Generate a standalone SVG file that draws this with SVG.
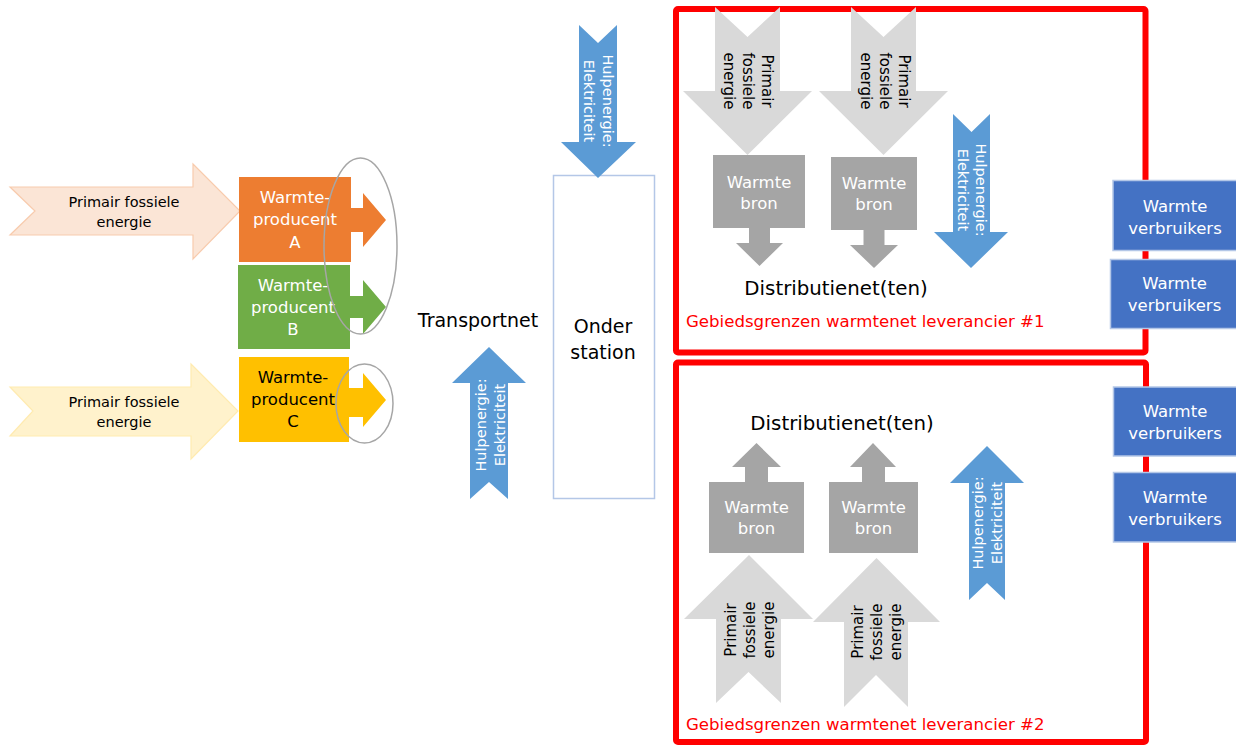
<svg xmlns="http://www.w3.org/2000/svg" width="1236" height="745" viewBox="0 0 1236 745">
<defs>
<style>
text { font-family: "DejaVu Sans", "Liberation Sans", sans-serif; }
.w { fill: #FFFFFF; }
.k { fill: #000000; }
.t14 { font-size: 14.5px; }
.t145 { font-size: 14.5px; }
.t15 { font-size: 15px; }
.t17 { font-size: 16.5px; }
.t19 { font-size: 19px; }
.t20 { font-size: 19.8px; }
.red { fill: #FF0000; font-size: 16.6px; }
.blue { fill: #5B9BD5; }
.fossil { fill: #D9D9D9; }
.bron { fill: #A5A5A5; }
.verb { fill: #4472C4; stroke: #B4C7E7; stroke-width: 1.5; }
.border { fill: none; stroke: #FF0000; stroke-width: 6; }
.ring { fill: none; stroke: #A6A6A6; stroke-width: 1.5; }
</style>
</defs>
<rect width="1236" height="745" fill="#FFFFFF"/>

<!-- Region borders -->
<g id="region1">
<rect class="border" x="676" y="9" width="469.5" height="343.5" rx="2"/>
<text class="red" x="686" y="327">Gebiedsgrenzen warmtenet leverancier #1</text>
</g>
<g id="region2">
<rect class="border" x="676" y="362.5" width="470" height="379.5" rx="2"/>
<text class="red" x="686" y="730">Gebiedsgrenzen warmtenet leverancier #2</text>
</g>

<!-- Left primary energy arrows -->
<g id="primair-1">
<polygon points="10,187 193,187 193,164 240,211 193,259 193,235 10,235 35,211" fill="#FBE5D6" stroke="#F8CBAD" stroke-width="1.2"/>
<text class="k t145" text-anchor="middle"><tspan x="124" y="207">Primair fossiele</tspan><tspan x="124" y="227">energie</tspan></text>
</g>
<g id="primair-2">
<polygon points="10,387 191,387 191,364 238,411 191,459 191,436 10,436 33,411" fill="#FFF2CC" stroke="#FFEBB0" stroke-width="1.2"/>
<text class="k t145" text-anchor="middle"><tspan x="124" y="407">Primair fossiele</tspan><tspan x="124" y="427">energie</tspan></text>
</g>

<!-- Producers -->
<g id="producent-a">
<rect x="239" y="177" width="112" height="85" fill="#ED7D31"/>
<text class="w t17" text-anchor="middle"><tspan x="295" y="203">Warmte-</tspan><tspan x="295" y="225">producent</tspan><tspan x="295" y="248">A</tspan></text>
</g>
<g id="producent-b">
<rect x="238" y="265" width="112" height="84" fill="#70AD47"/>
<text class="w t17" text-anchor="middle"><tspan x="293" y="291">Warmte-</tspan><tspan x="293" y="313">producent</tspan><tspan x="293" y="335">B</tspan></text>
</g>
<g id="producent-c">
<rect x="239" y="357" width="110" height="85" fill="#FFC000"/>
<text class="k t17" text-anchor="middle"><tspan x="293" y="383">Warmte-</tspan><tspan x="293" y="405">producent</tspan><tspan x="293" y="427">C</tspan></text>
</g>

<!-- Transportnet -->
<g id="transportnet">
<text class="k t19" x="478" y="327" text-anchor="middle">Transportnet</text>
</g>
<g id="hulp-transport">
<polygon class="blue" points="489,347 526,383 508,383 508,499 489,482 470,499 470,383 452,383"/>
<text class="w t14" text-anchor="middle" transform="translate(490.5,425) rotate(-90)"><tspan x="0" y="-4.5">Hulpenergie:</tspan><tspan x="0" y="14.5">Elektriciteit</tspan></text>
</g>

<!-- Onderstation -->
<g id="onderstation">
<rect x="553.5" y="175.5" width="101" height="323" fill="#FFFFFF" stroke="#B4C7E7" stroke-width="1.5"/>
<text class="k t19" text-anchor="middle"><tspan x="603" y="333">Onder</tspan><tspan x="603" y="359">station</tspan></text>
</g>
<g id="hulp-onderstation">
<polygon class="blue" points="579,25 598,43 617,25 617,142 636,142 598,178 561,142 579,142"/>
<text class="w t14" text-anchor="middle" transform="translate(598.5,101) rotate(90)"><tspan x="0" y="-4.5">Hulpenergie:</tspan><tspan x="0" y="14.5">Elektriciteit</tspan></text>
</g>

<!-- Region 1 contents -->
<g id="fossiel-1a">
<polygon class="fossil" points="715,7 747.5,37 780,7 780,91 812,91 747.5,155 683,91 715,91"/>
<text class="k t15" text-anchor="middle" transform="translate(747.5,81) rotate(90)"><tspan x="0" y="-14">Primair</tspan><tspan x="0" y="5">fossiele</tspan><tspan x="0" y="24">energie</tspan></text>
</g>
<g id="fossiel-1b">
<polygon class="fossil" points="851,7 883.5,37 916,7 916,91 948,91 883.5,155 819,91 851,91"/>
<text class="k t15" text-anchor="middle" transform="translate(884.5,81) rotate(90)"><tspan x="0" y="-14">Primair</tspan><tspan x="0" y="5">fossiele</tspan><tspan x="0" y="24">energie</tspan></text>
</g>
<g id="bron-1a">
<rect class="bron" x="713" y="155" width="92" height="73"/>
<text class="w t17" text-anchor="middle"><tspan x="759" y="188">Warmte</tspan><tspan x="759" y="209">bron</tspan></text>
</g>
<g id="bron-1b">
<rect class="bron" x="831" y="157" width="86" height="73"/>
<text class="w t17" text-anchor="middle"><tspan x="874" y="189">Warmte</tspan><tspan x="874" y="210">bron</tspan></text>
</g>
<g id="hulp-1">
<polygon class="blue" points="953,114 971.5,132 990,114 990,232 1008,232 971,268 934,232 953,232"/>
<text class="w t14" text-anchor="middle" transform="translate(971,190) rotate(90)"><tspan x="0" y="-4.5">Hulpenergie:</tspan><tspan x="0" y="13.5">Elektriciteit</tspan></text>
</g>
<g id="distributie-1">
<text class="k t20" x="836" y="295" text-anchor="middle">Distributienet(ten)</text>
</g>

<!-- Region 2 contents -->
<g id="distributie-2">
<text class="k t20" x="842" y="430" text-anchor="middle">Distributienet(ten)</text>
</g>
<g id="bron-2a">
<rect class="bron" x="709" y="482" width="95" height="71"/>
<text class="w t17" text-anchor="middle"><tspan x="756.5" y="513">Warmte</tspan><tspan x="756.5" y="534">bron</tspan></text>
</g>
<g id="bron-2b">
<rect class="bron" x="829" y="482" width="89" height="71"/>
<text class="w t17" text-anchor="middle"><tspan x="873.5" y="513">Warmte</tspan><tspan x="873.5" y="534">bron</tspan></text>
</g>
<g id="fossiel-2a">
<polygon class="fossil" points="749,555 813,619 781,619 781,703 748.5,672 716,703 716,619 684,619"/>
<text class="k t15" text-anchor="middle" transform="translate(749.5,630) rotate(-90)"><tspan x="0" y="-14">Primair</tspan><tspan x="0" y="5">fossiele</tspan><tspan x="0" y="24">energie</tspan></text>
</g>
<g id="fossiel-2b">
<polygon class="fossil" points="876.5,558 940,622 908,622 908,707 876,675 844,707 844,622 813,622"/>
<text class="k t15" text-anchor="middle" transform="translate(877,632) rotate(-90)"><tspan x="0" y="-14">Primair</tspan><tspan x="0" y="5">fossiele</tspan><tspan x="0" y="24">energie</tspan></text>
</g>
<g id="hulp-2">
<polygon class="blue" points="987,446 1024,483 1005,483 1005,600 987,583 969,600 969,483 950,483"/>
<text class="w t14" text-anchor="middle" transform="translate(987.5,523) rotate(-90)"><tspan x="0" y="-4.5">Hulpenergie:</tspan><tspan x="0" y="14.5">Elektriciteit</tspan></text>
</g>

<!-- Consumers -->
<g id="verbruikers-1">
<rect class="verb" x="1113" y="180.5" width="130" height="70"/>
<text class="w t17" text-anchor="middle"><tspan x="1175" y="212">Warmte</tspan><tspan x="1175" y="234">verbruikers</tspan></text>
</g>
<g id="verbruikers-2">
<rect class="verb" x="1110.5" y="259.5" width="130" height="69"/>
<text class="w t17" text-anchor="middle"><tspan x="1174.5" y="289">Warmte</tspan><tspan x="1174.5" y="311">verbruikers</tspan></text>
</g>
<g id="verbruikers-3">
<rect class="verb" x="1113.5" y="387" width="130" height="69"/>
<text class="w t17" text-anchor="middle"><tspan x="1175" y="417">Warmte</tspan><tspan x="1175" y="439">verbruikers</tspan></text>
</g>
<g id="verbruikers-4">
<rect class="verb" x="1113.5" y="472.5" width="130" height="69.5"/>
<text class="w t17" text-anchor="middle"><tspan x="1175" y="503">Warmte</tspan><tspan x="1175" y="525">verbruikers</tspan></text>
</g>

<!-- Connectors -->
<g id="connectors">
<polygon fill="#ED7D31" points="351,208 363,208 363,193 386,220 363,247 363,232 351,232"/>
<polygon fill="#70AD47" points="350,296 363,296 363,280 386,307 363,334 363,318 350,318"/>
<polygon fill="#FFC000" points="349,388 363,388 363,373 386,400 363,427 363,417 349,417"/>
<polygon class="bron" points="749,228 770,228 770,243 783,243 759.5,266 736,243 749,243"/>
<polygon class="bron" points="863.5,230 884.5,230 884.5,245 898,245 874,268 850,245 863.5,245"/>
<polygon class="bron" points="756.5,443 781,467 768,467 768,482 745,482 745,467 732,467"/>
<polygon class="bron" points="873,443 896,467 885,467 885,482 862,482 862,467 850,467"/>
<ellipse class="ring" cx="360.5" cy="246" rx="36.5" ry="88"/>
<ellipse class="ring" cx="364.5" cy="403.5" rx="28.5" ry="39.5"/>
</g>
</svg>
